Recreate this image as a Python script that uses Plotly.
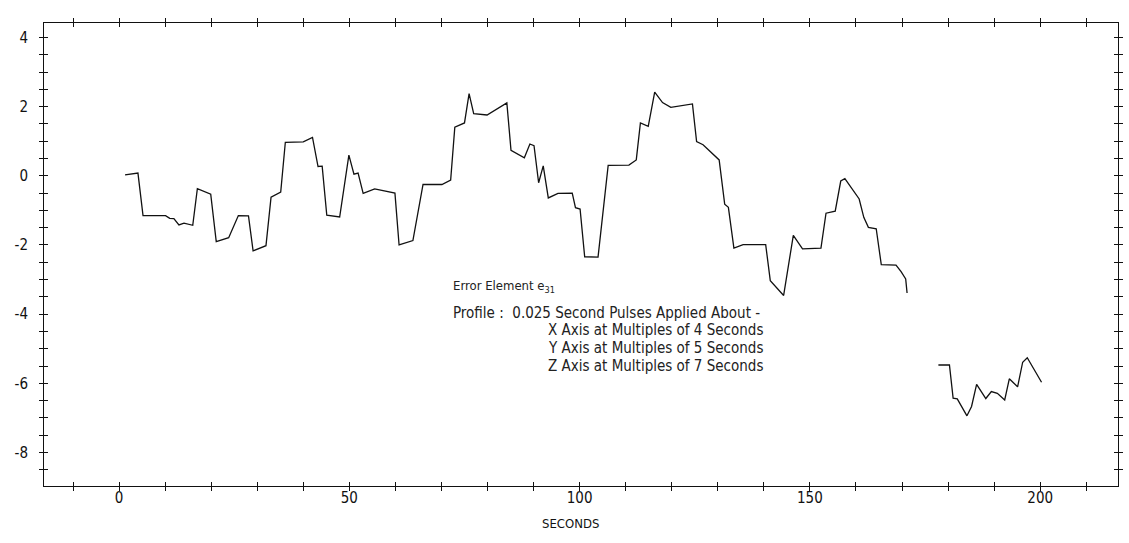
import plotly.graph_objects as go

# Error element e31 response, first recorded segment
seconds_a = [1.3, 4.1, 5.2, 10.1, 11.0, 11.9, 13.0, 14.1, 16.0, 17.0, 19.9, 21.1,
             23.8, 25.9, 28.1, 29.1, 31.9, 33.0, 35.1, 36.1, 40.0, 42.0, 43.2, 44.1,
             45.1, 47.9, 49.9, 51.0, 51.9, 53.0, 55.5, 59.9, 60.8, 63.8, 66.0, 70.1,
             72.0, 72.9, 75.0, 76.0, 77.0, 79.9, 84.2, 85.1, 88.0, 89.2, 90.1, 91.1,
             92.1, 93.2, 95.3, 98.4, 99.1, 100.1, 101.1, 104.0, 106.2, 110.7, 112.3,
             113.2, 114.9, 116.3, 118.0, 119.8, 124.5, 125.4, 126.8, 130.3, 131.5,
             132.3, 133.5, 135.5, 140.4, 141.4, 144.3, 146.4, 148.4, 152.4, 153.5,
             155.5, 156.7, 157.6, 160.7, 161.7, 162.7, 164.4, 165.5, 168.7, 169.8,
             170.8, 171.1]
error_a = [0.03, 0.08, -1.15, -1.15, -1.23, -1.24, -1.42, -1.37, -1.43, -0.37, -0.53,
           -1.90, -1.79, -1.15, -1.16, -2.17, -2.02, -0.62, -0.47, 0.97, 0.98, 1.11,
           0.27, 0.28, -1.14, -1.19, 0.60, 0.05, 0.08, -0.51, -0.38, -0.50, -2.00,
           -1.87, -0.25, -0.25, -0.12, 1.41, 1.53, 2.38, 1.80, 1.76, 2.11, 0.74, 0.52,
           0.92, 0.87, -0.20, 0.29, -0.64, -0.51, -0.50, -0.92, -0.96, -2.34, -2.35,
           0.30, 0.31, 0.46, 1.53, 1.43, 2.42, 2.12, 1.98, 2.08, 0.99, 0.90, 0.46,
           -0.82, -0.91, -2.09, -1.99, -1.99, -3.03, -3.46, -1.72, -2.11, -2.09, -1.08,
           -1.02, -0.15, -0.08, -0.67, -1.20, -1.49, -1.53, -2.57, -2.58, -2.77, -2.98,
           -3.39]

# Second recorded segment
seconds_b = [177.9, 180.3, 181.1, 182.0, 184.1, 185.1, 186.2, 188.2, 189.4, 190.7,
             192.3, 193.3, 195.1, 196.2, 197.2, 200.3]
error_b = [-5.47, -5.47, -6.43, -6.45, -6.94, -6.67, -6.03, -6.44, -6.24, -6.29,
           -6.48, -5.87, -6.10, -5.39, -5.26, -5.97]

# Axis ticks: crosses every 10 s / 0.5 units, labels on a coarser spacing
x_tick_vals = [-10, 0, 10, 20, 30, 40, 50, 60, 70, 80, 90, 100, 110, 120, 130, 140,
               150, 160, 170, 180, 190, 200, 210]
x_tick_text = ["", "0", "", "", "", "", "50", "", "", "", "", "100", "", "", "", "",
               "150", "", "", "", "", "200", ""]
y_tick_vals = [-8.5, -8, -7.5, -7, -6.5, -6, -5.5, -5, -4.5, -4, -3.5, -3, -2.5, -2,
               -1.5, -1, -0.5, 0, 0.5, 1, 1.5, 2, 2.5, 3, 3.5, 4]
y_tick_text = ["", "-8", "", "", "", "-6", "", "", "", "-4", "", "", "", "-2", "", "",
               "", "0", "", "", "", "2", "", "", "", "4"]

x_range = [-16.3, 216.9]
y_range = [-8.97, 4.42]

FONT = "Liberation Sans Narrow, DejaVu Sans Condensed, Liberation Sans, sans-serif"
INK = "#111111"

fig = go.Figure()
fig.add_trace(go.Scatter(x=seconds_a, y=error_a, mode="lines",
                         line=dict(color=INK, width=1.3), showlegend=False,
                         hoverinfo="skip"))
fig.add_trace(go.Scatter(x=seconds_b, y=error_b, mode="lines",
                         line=dict(color=INK, width=1.3), showlegend=False,
                         hoverinfo="skip"))
# transparent copy on the overlaid axes, which carry the inner half of each cross tick
fig.add_trace(go.Scatter(x=seconds_b, y=error_b, mode="markers", xaxis="x2", yaxis="y2",
                         marker=dict(opacity=0, size=1), showlegend=False,
                         hoverinfo="skip"))

axis_common = dict(showgrid=False, zeroline=False, linecolor=INK, linewidth=1,
                   tickcolor=INK, tickwidth=1, ticklen=4, mirror="ticks",
                   tickmode="array")

fig.update_layout(
    width=1129, height=543,
    margin=dict(l=44, r=6, t=23, b=57),
    paper_bgcolor="white", plot_bgcolor="white",
    font=dict(family=FONT, size=15, color=INK),
    xaxis=dict(range=x_range, tickvals=x_tick_vals, ticktext=x_tick_text,
               ticks="outside", showline=True, ticklabelstandoff=-6,
               **axis_common),
    yaxis=dict(range=y_range, tickvals=y_tick_vals, ticktext=y_tick_text,
               ticks="outside", showline=True, ticklabelstandoff=8,
               **axis_common),
    xaxis2=dict(range=x_range, tickvals=x_tick_vals, overlaying="x", side="bottom",
                ticks="inside", showline=True, showticklabels=False,
                **axis_common),
    yaxis2=dict(range=y_range, tickvals=y_tick_vals, overlaying="y", side="left",
                ticks="inside", showline=True, showticklabels=False,
                **axis_common),
)

notes = [
    dict(text="Error Element e<sub>31</sub>", x=72.0, y=-3.19, xanchor="left", size=13),
    dict(text="Profile :  0.025 Second Pulses Applied About -", x=72.1, y=-3.97,
         xanchor="left", size=15),
    dict(text="X Axis at Multiples of 4 Seconds", x=140.2, y=-4.45, xanchor="right",
         size=15),
    dict(text="Y Axis at Multiples of 5 Seconds", x=140.2, y=-4.97, xanchor="right",
         size=15),
    dict(text="Z Axis at Multiples of 7 Seconds", x=140.2, y=-5.49, xanchor="right",
         size=15),
]
for n in notes:
    fig.add_annotation(text=n["text"], x=n["x"], y=n["y"], xref="x", yref="y",
                       xanchor=n["xanchor"], yanchor="middle", showarrow=False,
                       font=dict(family=FONT, size=n["size"], color="#222222"))

fig.add_annotation(text="SECONDS", x=98.0, xref="x", y=0, yref="paper",
                   yanchor="middle", yshift=-37, showarrow=False,
                   font=dict(family=FONT, size=13, color=INK))

fig.write_html("out.html")
